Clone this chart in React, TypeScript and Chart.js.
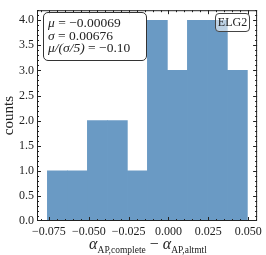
import React, { useEffect, useRef } from "react";
import { Chart, registerables } from "chart.js";

Chart.register(...registerables);

// ---- data ----
const binEdges = [-0.076, -0.06345, -0.0509, -0.03835, -0.0258, -0.01325, -0.0007, 0.01185, 0.0244, 0.03695, 0.0495];
const counts = [1, 1, 2, 2, 1, 4, 3, 4, 4, 3];
const xTicks = [-0.075, -0.05, -0.025, 0.0, 0.025, 0.05];
const yTicks = [0, 0.5, 1.0, 1.5, 2.0, 2.5, 3.0, 3.5, 4.0];
const xRange = [-0.0825, 0.0556];
const yRange = [0, 4.2];
const statSymbols = ["μ", "σ", "μ/(σ/5)"];
const statValues = ["−0.00069", "0.00676", "−0.10"];
const tracerLabel = "ELG2";

const W = 266;
const H = 255;
const SERIF = "'Liberation Serif', 'DejaVu Serif', serif";

const fmt = (v: number, d: number) => {
  const s = Math.abs(v).toFixed(d);
  return (v < -1e-12 ? "\u2212" : "") + s;
};

const frameTicks = {
  id: "frameTicks",
  afterDatasetsDraw(chart: any) {
    const { ctx, chartArea: a, scales } = chart;
    const xs = scales.x;
    const ys = scales.y;
    ctx.save();
    ctx.strokeStyle = "#222";
    ctx.lineWidth = 1;
    const xMinor: number[] = [];
    for (let i = -17; i <= 11; i++) xMinor.push(i * 0.005);
    const yMinor: number[] = [];
    for (let i = 0; i <= 42; i++) yMinor.push(i * 0.1);
    ctx.beginPath();
    xMinor.forEach((v) => {
      const p = Math.round(xs.getPixelForValue(v)) + 0.5;
      if (p < a.left || p > a.right) return;
      const major = xTicks.some((t) => Math.abs(t - v) < 1e-9);
      const L = major ? 4 : 2;
      ctx.moveTo(p, a.bottom);
      ctx.lineTo(p, a.bottom - L);
      ctx.moveTo(p, a.top);
      ctx.lineTo(p, a.top + L);
    });
    yMinor.forEach((v) => {
      const p = Math.round(ys.getPixelForValue(v)) + 0.5;
      if (p < a.top || p > a.bottom) return;
      const major = yTicks.some((t) => Math.abs(t - v) < 1e-9);
      const L = major ? 4 : 2;
      ctx.moveTo(a.left, p);
      ctx.lineTo(a.left + L, p);
      ctx.moveTo(a.right, p);
      ctx.lineTo(a.right - L, p);
    });
    ctx.stroke();
    ctx.strokeRect(a.left + 0.5, a.top + 0.5, a.right - a.left - 1, a.bottom - a.top - 1);
    ctx.restore();
  },
};

export default function App() {
  const ref = useRef<HTMLCanvasElement>(null);
  useEffect(() => {
    const centers = counts.map((_, i) => (binEdges[i] + binEdges[i + 1]) / 2);
    const chart = new Chart(ref.current!, {
      type: "bar",
      data: {
        datasets: [
          {
            data: centers.map((c, i) => ({ x: c, y: counts[i] })),
            backgroundColor: "rgb(106,154,196)",
            borderWidth: 0,
            barPercentage: 1,
            categoryPercentage: 1,
          },
        ],
      },
      options: {
        animation: false,
        responsive: false,
        events: [],
        layout: { padding: { top: 3, right: 8, left: 0, bottom: 0 } },
        plugins: { legend: { display: false }, tooltip: { enabled: false } },
        scales: {
          x: {
            type: "linear",
            offset: false,
            min: xRange[0],
            max: xRange[1],
            grid: { display: false, drawTicks: false, offset: false },
            border: { display: false },
            afterBuildTicks: (s: any) => {
              s.ticks = xTicks.map((v) => ({ value: v }));
            },
            afterFit: (s: any) => {
              s.height = 34;
            },
            ticks: {
              padding: 4,
              maxRotation: 0,
              autoSkip: false,
              color: "#222",
              font: { family: SERIF, size: 12 },
              callback: (v: any) => fmt(Number(v), 3),
            },
          },
          y: {
            min: yRange[0],
            max: yRange[1],
            grid: { display: false, drawTicks: false },
            border: { display: false },
            afterBuildTicks: (s: any) => {
              s.ticks = yTicks.map((v) => ({ value: v }));
            },
            afterFit: (s: any) => {
              s.width = 37;
            },
            title: {
              display: true,
              text: "counts",
              color: "#222",
              font: { family: SERIF, size: 15 },
              padding: { top: 0, bottom: 0 },
            },
            ticks: {
              padding: 3,
              autoSkip: false,
              color: "#222",
              font: { family: SERIF, size: 12 },
              callback: (v: any) => fmt(Number(v), 1),
            },
          },
        },
      },
      plugins: [frameTicks],
    });
    return () => chart.destroy();
  }, []);

  return (
    <div style={{ position: "absolute", left: 0, top: 0, width: W, height: H, background: "#fff", fontFamily: SERIF, color: "#222" }}>
      <canvas ref={ref} width={W} height={H} style={{ display: "block", width: W, height: H }} />
      <div
        style={{
          position: "absolute",
          left: 43,
          top: 12,
          width: 104,
          height: 49,
          boxSizing: "border-box",
          border: "1px solid #333",
          borderRadius: 5,
          background: "rgba(255,255,255,0.85)",
          fontSize: 13.5,
          lineHeight: "12.5px",
          padding: "4px 0 0 4px",
          whiteSpace: "nowrap",
        }}
      >
        {statSymbols.map((s, i) => (
          <div key={i}>
            <i>{s}</i> = {statValues[i]}
          </div>
        ))}
      </div>
      <div
        style={{
          position: "absolute",
          left: 215,
          top: 13,
          width: 35,
          height: 19,
          boxSizing: "border-box",
          border: "1px solid #444",
          borderRadius: 4,
          background: "rgba(255,255,255,0.55)",
          fontSize: 12,
          lineHeight: "17px",
          textAlign: "center",
        }}
      >
        {tracerLabel}
      </div>
      <div
        style={{
          position: "absolute",
          left: 0,
          width: 296,
          top: 235,
          textAlign: "center",
          fontSize: 16,
          whiteSpace: "nowrap",
        }}
      >
        <i>α</i>
        <sub style={{ fontSize: 9.5 }}>AP,complete</sub> − <i>α</i>
        <sub style={{ fontSize: 9.5 }}>AP,altmtl</sub>
      </div>
    </div>
  );
}
